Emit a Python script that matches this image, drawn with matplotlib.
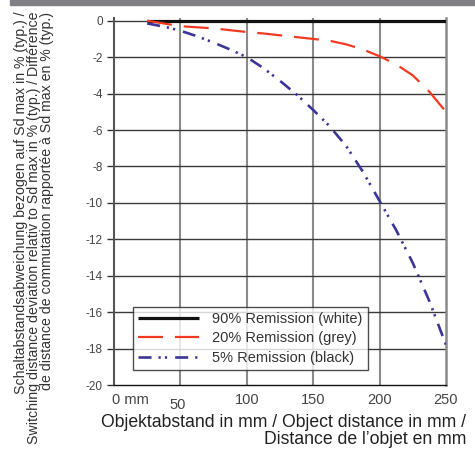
import matplotlib
matplotlib.use("Agg")
import matplotlib.pyplot as plt
import matplotlib.transforms as mtransforms
from matplotlib.patches import Rectangle

plt.rcParams['font.family'] = ['Liberation Sans', 'DejaVu Sans']
plt.rcParams['lines.scale_dashes'] = False

# Data
distance_mm = [25, 37.5, 50, 62.5, 75, 87.5, 100, 112.5, 125, 137.5, 150,
               162.5, 175, 187.5, 200, 212.5, 225, 237.5, 250]
white_90 = [0] * len(distance_mm)
grey_20 = [0, -0.15, -0.3, -0.36, -0.42, -0.52, -0.62, -0.7, -0.8, -0.9, -1.0,
           -1.1, -1.3, -1.58, -1.95, -2.4, -3.0, -3.9, -5.0]
black_5 = [-0.15, -0.32, -0.55, -0.85, -1.2, -1.58, -2.0, -2.6, -3.3, -4.05, -4.9,
           -5.8, -6.9, -8.3, -9.9, -11.5, -13.3, -15.4, -17.8]

series_labels = ['90% Remission (white)', '20% Remission (grey)', '5% Remission (black)']
xtick_vals = [0, 50, 100, 150, 200, 250]
xtick_labels = ['0 mm', '50', '100', '150', '200', '250']
ytick_vals = list(range(0, -21, -2))

W, H = 475, 450
fig = plt.figure(figsize=(W / 100, H / 100), dpi=100)
ax = fig.add_axes([114 / W, 1 - 385 / H, (446 - 114) / W, (385 - 18) / H])

# top grey bar
fig.patches.append(Rectangle((10 / W, 1 - 5 / H), (W - 10) / W, 5 / H,
                             transform=fig.transFigure, color='#7f7f85', zorder=0))

ax.set_xlim(0, 250)
ax.set_ylim(-20, 0.15)

# grid
for xv in [50, 100, 150, 200]:
    ax.axvline(xv, color='#8a8a8a', lw=1.5, zorder=1)
for yv in ytick_vals:
    if yv != -20:
        ax.axhline(yv, color='#3a3a3a', lw=1.0, zorder=1)

ax.plot(distance_mm, white_90, color='#111111', lw=2.3, solid_capstyle='butt',
        label=series_labels[0], zorder=3)
ax.plot(distance_mm, grey_20, color='#f23a22', lw=1.6, dashes=(18, 8.6),
        label=series_labels[1], zorder=3)
ax.plot(distance_mm, black_5, color='#3b3596', lw=1.9,
        dashes=(9.4, 5, 1.6, 3, 1.6, 5.8), label=series_labels[2], zorder=3)

# spines
ax.spines['top'].set_visible(False)
ax.spines['left'].set_color('#555555')
ax.spines['left'].set_linewidth(1.5)
ax.spines['right'].set_color('#8a8a8a')
ax.spines['right'].set_linewidth(1.8)
ax.spines['bottom'].set_color('#111111')
ax.spines['bottom'].set_linewidth(1.0)

ax.set_yticks(ytick_vals)
ax.set_yticklabels([str(v) for v in ytick_vals])
ax.tick_params(axis='y', direction='out', length=5, width=1, color='#333333',
               labelsize=8.5, labelcolor='#444444', pad=3)
ax.set_xticks(xtick_vals)
ax.set_xticklabels(xtick_labels)
ax.tick_params(axis='x', length=0, labelsize=10.5, labelcolor='#444444', pad=6)

xl = ax.get_xticklabels()
xl[0].set_transform(xl[0].get_transform() + mtransforms.ScaledTranslation(16 / 100, 0, fig.dpi_scale_trans))
xl[1].set_transform(xl[1].get_transform() + mtransforms.ScaledTranslation(-3 / 100, -5 / 100, fig.dpi_scale_trans))

leg = ax.legend(loc='lower left', bbox_to_anchor=((133 - 114) / (446 - 114), (385 - 370) / (385 - 18)),
                fontsize=10.5, frameon=True, fancybox=False, handlelength=4.2,
                borderpad=0.35, labelspacing=0.38, handletextpad=0.9, borderaxespad=0)
leg.get_frame().set_edgecolor('#222222')
leg.get_frame().set_linewidth(1.0)
for t in leg.get_texts():
    t.set_color('#333333')

fig.text(101 / W, 1 - 414 / H,
         'Objektabstand in mm / Object distance in mm /\nDistance de l\u2019objet en mm',
         ha='left', va='top', multialignment='right', fontsize=12.7,
         color='#222222', linespacing=1.0)

fig.text(34 / W, 1 - 12 / H,
         'Schaltabstandsabweichung bezogen auf Sd max in % (typ.) /\n'
         'Switching distance deviation relativ to Sd max in % (typ.) / Différence\n'
         'de distance de commutation rapportée à Sd max en % (typ.)',
         rotation=90, ha='center', va='top', multialignment='right',
         fontsize=10.2, color='#333333', linespacing=0.92)

fig.savefig('out.png', dpi=100)
